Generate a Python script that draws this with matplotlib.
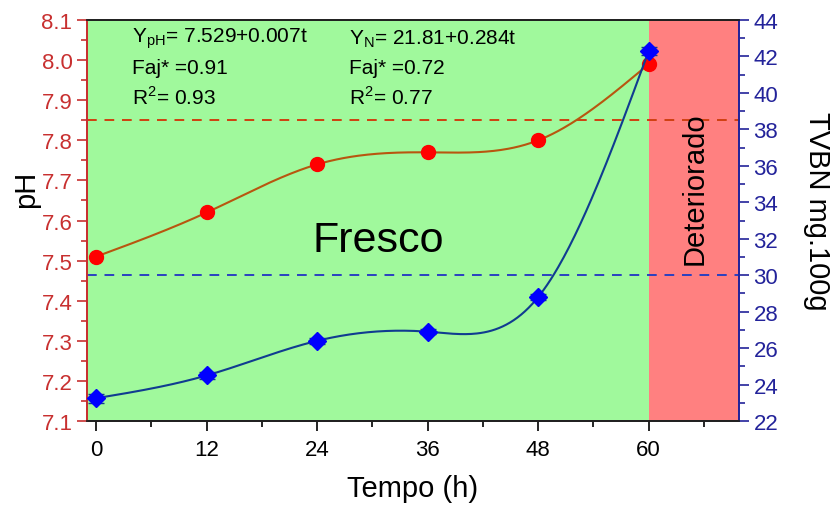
import numpy as np
import matplotlib.pyplot as plt
from matplotlib.ticker import MultipleLocator

plt.rcParams['font.family'] = ['Liberation Sans', 'DejaVu Sans']

# storage time (h) and measured values
tempo = [0, 12, 24, 36, 48, 60]
ph = [7.51, 7.62, 7.74, 7.77, 7.80, 7.99]
tvbn = [23.25, 24.5, 26.4, 26.9, 28.8, 42.3]
tvbn_err = [0.25, 0.2, 0.15, 0.15, 0.15, 0.2]

ph_limite = 7.85
tvbn_limite = 30


def natural_spline(x, y, n=300):
    # natural cubic spline through (x, y), used only for the smooth connecting line
    x = np.asarray(x, float)
    y = np.asarray(y, float)
    k = len(x)
    h = np.diff(x)
    A = np.zeros((k, k))
    b = np.zeros(k)
    A[0, 0] = A[-1, -1] = 1
    for i in range(1, k - 1):
        A[i, i - 1] = h[i - 1]
        A[i, i] = 2 * (h[i - 1] + h[i])
        A[i, i + 1] = h[i]
        b[i] = 3 * ((y[i + 1] - y[i]) / h[i] - (y[i] - y[i - 1]) / h[i - 1])
    c = np.linalg.solve(A, b)
    xs = np.linspace(x[0], x[-1], n)
    ys = np.empty_like(xs)
    for j, xv in enumerate(xs):
        i = min(np.searchsorted(x, xv, side='right') - 1, k - 2)
        d = xv - x[i]
        bi = (y[i + 1] - y[i]) / h[i] - h[i] * (2 * c[i] + c[i + 1]) / 3
        di = (c[i + 1] - c[i]) / (3 * h[i])
        ys[j] = y[i] + bi * d + c[i] * d ** 2 + di * d ** 3
    return xs, ys


fig = plt.figure(figsize=(8.34, 5.06), dpi=100)
ax = fig.add_axes([0.1043, 0.166, 0.7817, 0.7925])
ax2 = ax.twinx()

ax.set_xlim(-1, 69.8)
ax.set_ylim(7.1, 8.1)
ax2.set_ylim(22, 44)

# zones
ax.axvspan(-1, 60, color='#a0f99c', zorder=0, lw=0)
ax.axvspan(60, 69.8, color='#ff8080', zorder=0, lw=0)

red_c = '#c83030'
blue_c = '#23239a'

# pH
xs, ys = natural_spline(tempo, ph)
ax.plot(xs, ys, color='#b8560f', lw=1.5, zorder=3)
ax.plot(tempo, ph, 'o', color='#ff0000', ms=10, zorder=4)
ax.axhline(ph_limite, color='#d04010', ls=(0, (5, 4)), lw=1.4, zorder=2)

# TVBN
xs, ys = natural_spline(tempo, tvbn)
ax2.plot(xs, ys, color='#103c90', lw=1.5, zorder=3)
ax2.errorbar(tempo, tvbn, yerr=tvbn_err, fmt='D', color='#0000ff', ms=9.5,
             ecolor='#103c90', elinewidth=1, capsize=6, zorder=4)
ax2.axhline(tvbn_limite, color='#2a40c0', ls=(0, (5, 4)), lw=1.4, zorder=2)

# ticks
ax.set_xticks(tempo)
ax.xaxis.set_minor_locator(MultipleLocator(6))
ax.yaxis.set_major_locator(MultipleLocator(0.1))
ax.yaxis.set_minor_locator(MultipleLocator(0.05))
ax.set_yticklabels([f'{v:.1f}' for v in ax.get_yticks()])
ax2.yaxis.set_major_locator(MultipleLocator(2))
ax2.yaxis.set_minor_locator(MultipleLocator(1))

ax.tick_params(axis='x', which='major', direction='out', length=7, width=1.2,
               labelsize=16, pad=6)
ax.tick_params(axis='x', which='minor', direction='out', length=4, width=1.2)
ax.tick_params(axis='y', which='major', direction='out', length=7, width=1.2,
               labelsize=16, colors=red_c)
ax.tick_params(axis='y', which='minor', direction='out', length=4, width=1.2,
               colors=red_c)
ax2.tick_params(axis='y', which='major', direction='out', length=7, width=1.2,
                labelsize=16, colors=blue_c)
ax2.tick_params(axis='y', which='minor', direction='out', length=4, width=1.2,
                colors=blue_c)

for a in (ax, ax2):
    a.spines['left'].set_color(red_c)
    a.spines['right'].set_color(blue_c)
    a.spines['top'].set_color('#202020')
    a.spines['bottom'].set_color('#202020')
    for s in a.spines.values():
        s.set_linewidth(1.3)

ax.set_xlabel('Tempo (h)', fontsize=21, labelpad=10)
ax.set_ylabel('pH', fontsize=21, labelpad=2)
ax.yaxis.set_label_coords(-0.072, 0.58)
ax2.set_ylabel('TVBN mg.100g', fontsize=21, rotation=-90, labelpad=32)
ax2.yaxis.set_label_coords(1.141, 0.525)

ax.text(30.6, 7.551, 'Fresco', fontsize=31, ha='center', va='center', zorder=5)
ax.text(65.0, 7.683, 'Deteriorado', fontsize=21, rotation=90,
        ha='center', va='center', zorder=5)

fs = 15
ax.text(3.9, 8.055, 'Y$_{\\mathregular{pH}}$= 7.529+0.007t', fontsize=fs, va='center')
ax.text(3.9, 7.982, 'Faj* =0.91', fontsize=fs, va='center')
ax.text(3.9, 7.91, 'R$^{\\mathregular{2}}$= 0.93', fontsize=fs, va='center')
ax.text(27.5, 8.055, 'Y$_{\\mathregular{N}}$= 21.81+0.284t', fontsize=fs, va='center')
ax.text(27.5, 7.982, 'Faj* =0.72', fontsize=fs, va='center')
ax.text(27.5, 7.91, 'R$^{\\mathregular{2}}$= 0.77', fontsize=fs, va='center')

fig.savefig('out.png', dpi=100)
